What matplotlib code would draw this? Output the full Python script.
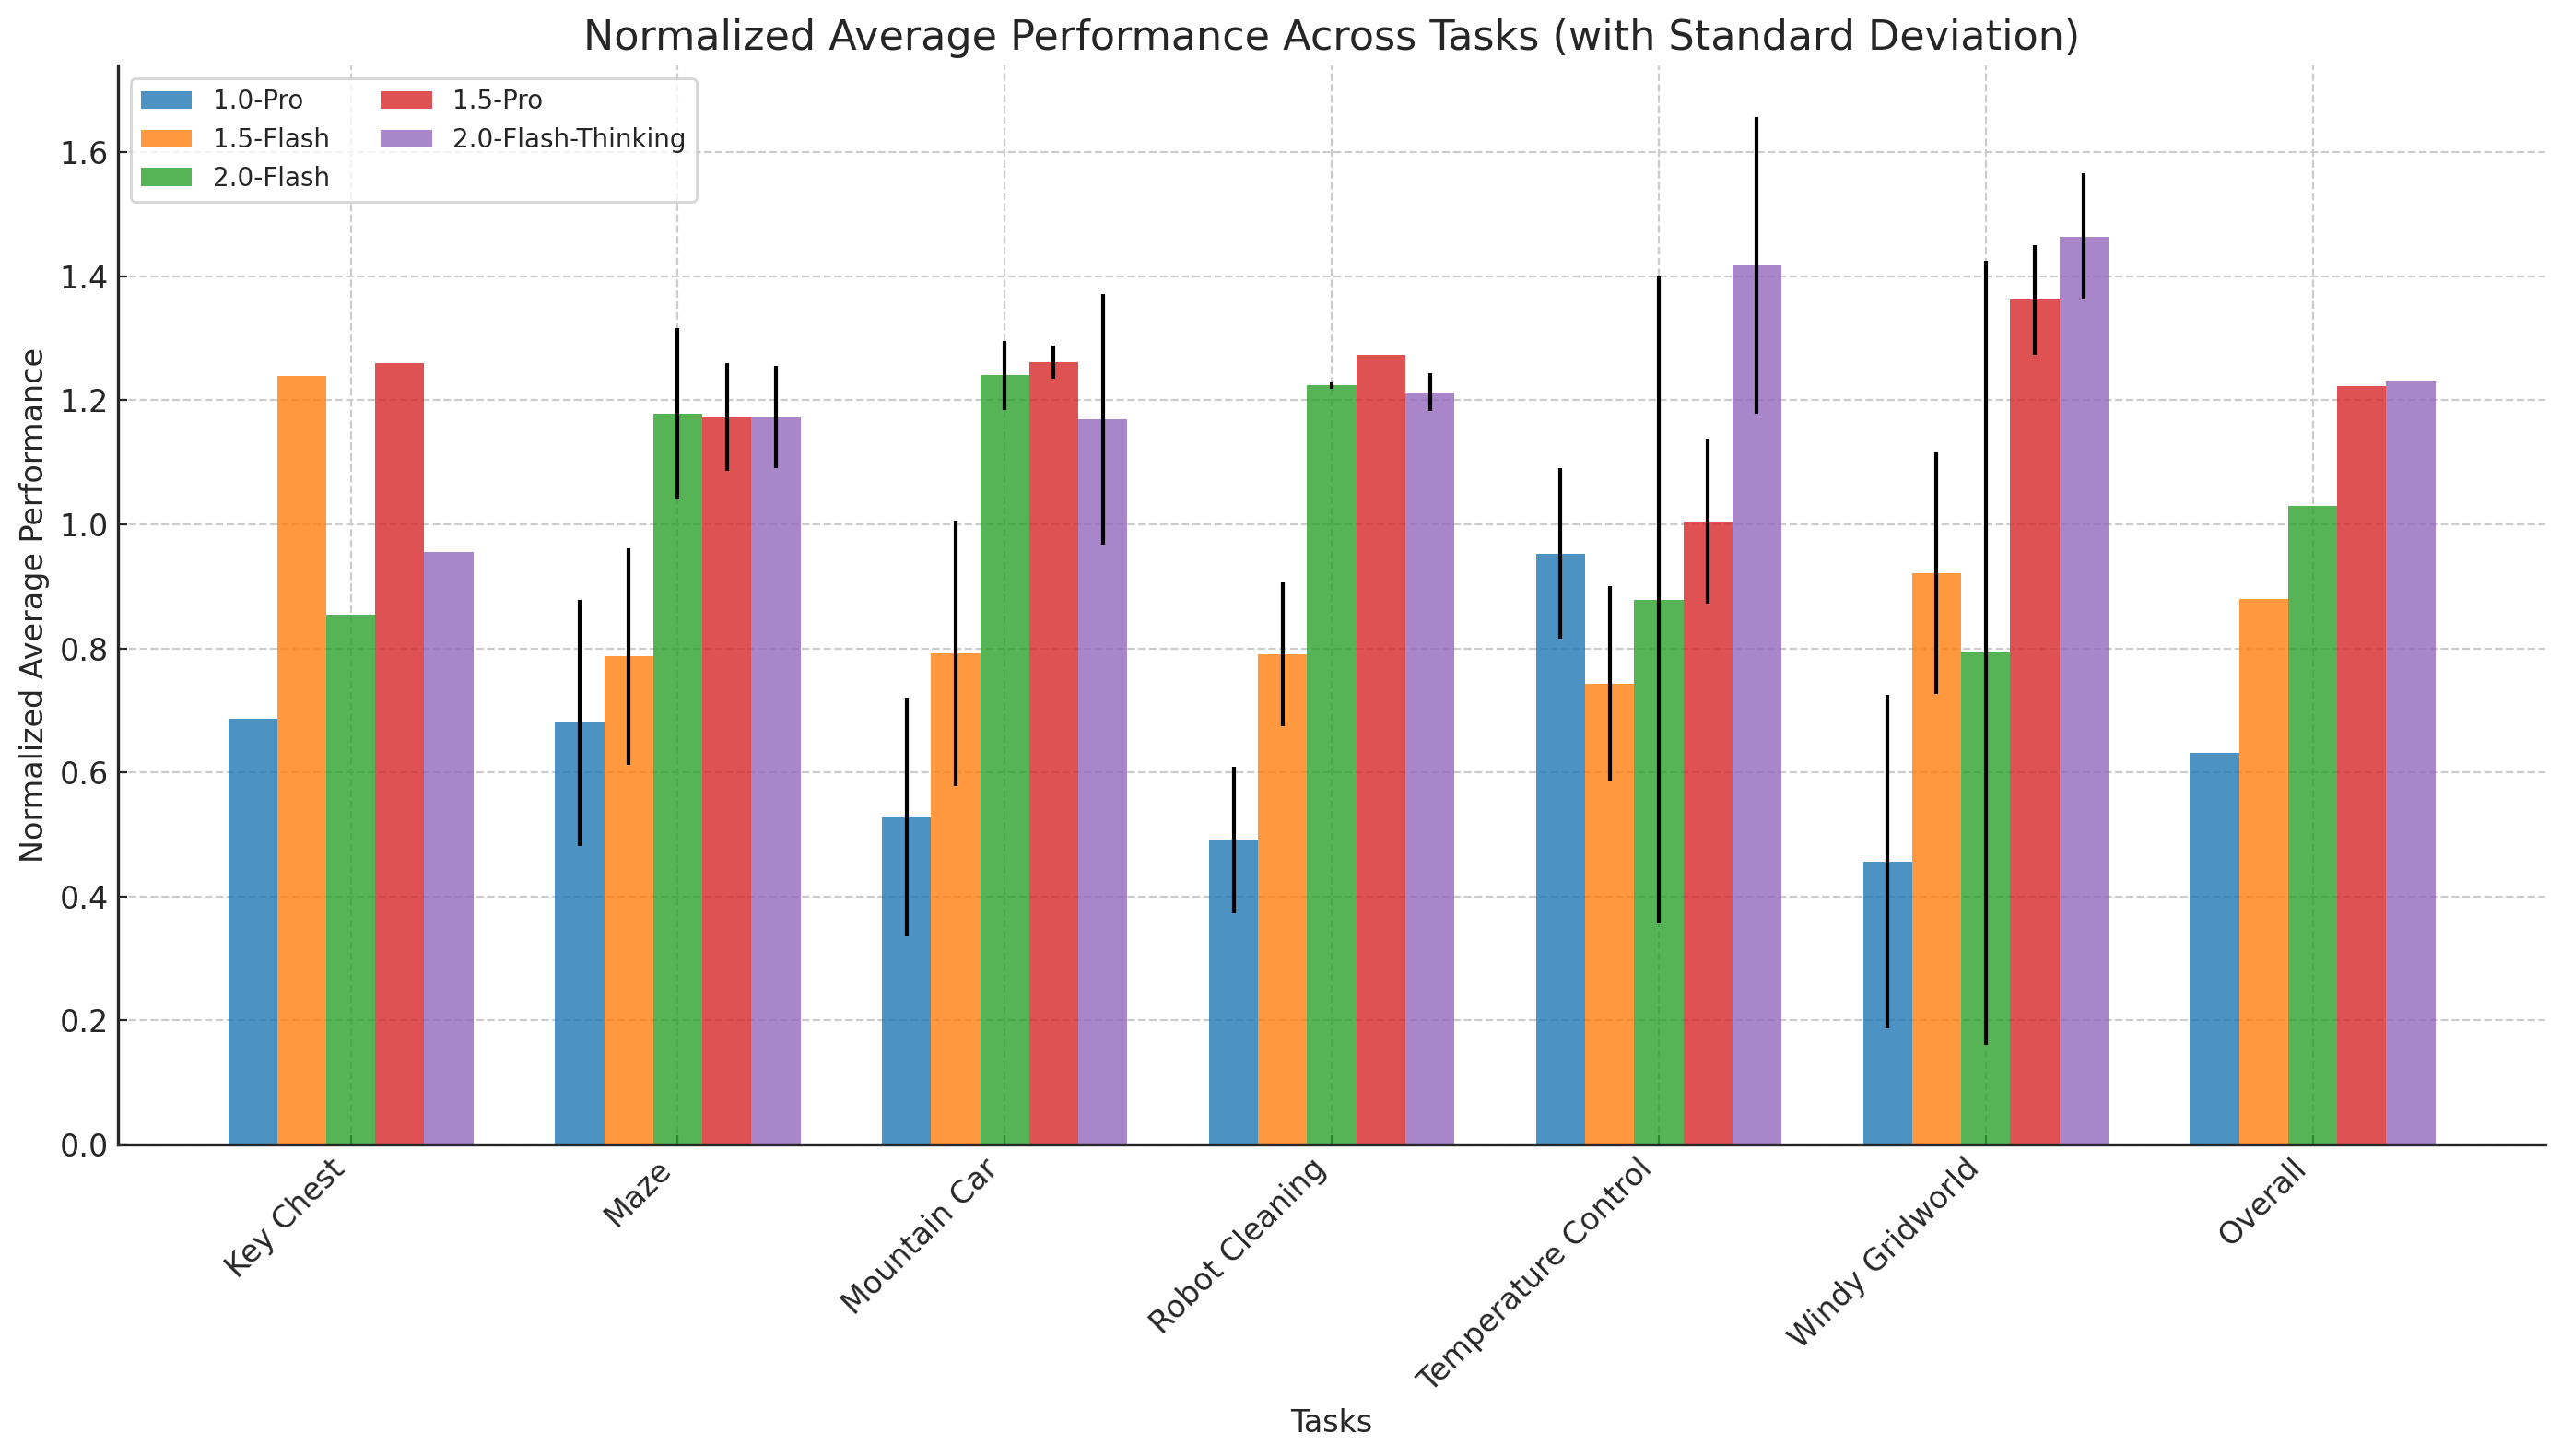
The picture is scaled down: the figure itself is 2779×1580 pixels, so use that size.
import numpy as np
import matplotlib
matplotlib.use('Agg')
import matplotlib.pyplot as plt

# Úlohy a modely
tasks = ['Key Chest', 'Maze', 'Mountain Car', 'Robot Cleaning',
         'Temperature Control', 'Windy Gridworld', 'Overall']
models = ['1.0-Pro', '1.5-Flash', '2.0-Flash', '1.5-Pro', '2.0-Flash-Thinking']

# Průměrný normalizovaný výkon
pro_10 = [0.686, 0.680, 0.528, 0.491, 0.953, 0.456, 0.632]
flash_15 = [1.239, 0.787, 0.792, 0.791, 0.743, 0.921, 0.880]
flash_20 = [0.854, 1.178, 1.240, 1.224, 0.878, 0.793, 1.029]
pro_15 = [1.260, 1.173, 1.261, 1.273, 1.005, 1.362, 1.223]
thinking_20 = [0.955, 1.173, 1.169, 1.213, 1.418, 1.464, 1.232]

# Směrodatné odchylky (NaN = bez chybové úsečky)
nan = np.nan
pro_10_std = [nan, 0.198, 0.193, 0.118, 0.138, 0.269, nan]
flash_15_std = [nan, 0.175, 0.214, 0.116, 0.157, 0.195, nan]
flash_20_std = [nan, 0.138, 0.056, 0.005, 0.522, 0.632, nan]
pro_15_std = [nan, 0.087, 0.027, nan, 0.133, 0.088, nan]
thinking_20_std = [nan, 0.082, 0.202, 0.031, 0.239, 0.102, nan]

means = [pro_10, flash_15, flash_20, pro_15, thinking_20]
stds = [pro_10_std, flash_15_std, flash_20_std, pro_15_std, thinking_20_std]
colors = ['#1f77b4', '#ff7f0e', '#2ca02c', '#d62728', '#9467bd']

plt.rcParams['text.color'] = '#262626'
plt.rcParams['axes.labelcolor'] = '#262626'

fig, ax = plt.subplots(figsize=(13.895, 7.9), dpi=200)

x = np.arange(len(tasks))
width = 0.15
for i, model in enumerate(models):
    ax.bar(x + (i - 2) * width, means[i], width, yerr=stds[i], label=model,
           color=colors[i], alpha=0.8, error_kw={'ecolor': 'black', 'elinewidth': 1.5})

ax.set_title('Normalized Average Performance Across Tasks (with Standard Deviation)',
             fontsize=16)
ax.set_xlabel('Tasks', fontsize=12)
ax.set_ylabel('Normalized Average Performance', fontsize=12)
ax.set_xticks(x)
ax.set_xticklabels(tasks, rotation=45, ha='right')
ax.tick_params(axis='both', direction='in', colors='#262626', labelsize=12)

ax.set_axisbelow(True)
ax.grid(True, linestyle='--', color='#cccccc', linewidth=0.8)
for s in ['top', 'right']:
    ax.spines[s].set_visible(False)
for s in ['left', 'bottom']:
    ax.spines[s].set_color('#262626')
    ax.spines[s].set_linewidth(1.2)

ax.legend(loc='upper left', ncol=2, fontsize=10, framealpha=0.8, edgecolor='#cccccc')

plt.subplots_adjust(left=0.046, right=0.994, top=0.955, bottom=0.214)
plt.savefig('out.png', dpi=200)
